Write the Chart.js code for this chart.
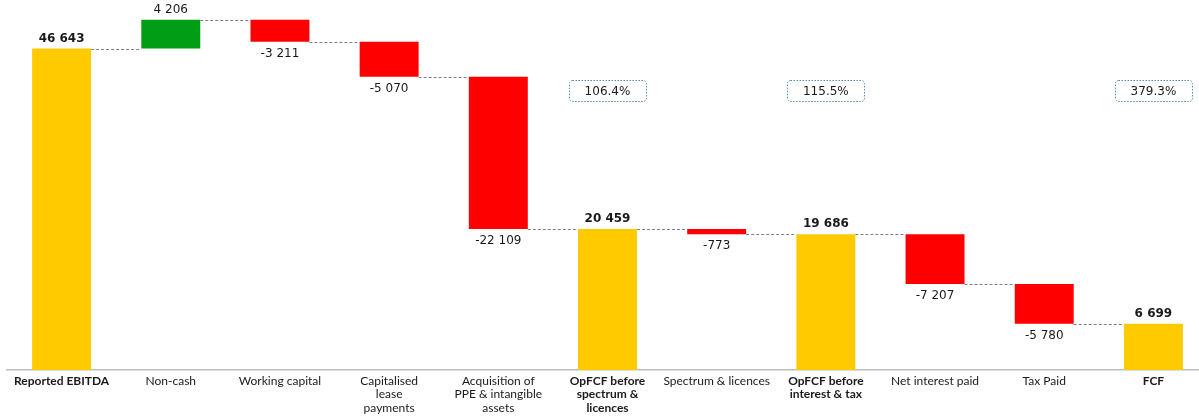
<!DOCTYPE html>
<html lang="en">
<head>
<meta charset="UTF-8">
<title>FCF bridge</title>
<script src="https://cdn.jsdelivr.net/npm/chart.js"></script>
<style>
  html, body { margin: 0; padding: 0; overflow: hidden; background: #fff; }
  .wrap { width: 1208px; height: 416px; }
</style>
</head>
<body>
<div class="wrap"><canvas id="bridge"></canvas></div>
<script>
const categories = [
  'Reported EBITDA',
  'Non-cash',
  'Working capital',
  ['Capitalised', 'lease', 'payments'],
  ['Acquisition of', 'PPE & intangible', 'assets'],
  ['OpFCF before', 'spectrum &', 'licences'],
  'Spectrum & licences',
  ['OpFCF before', 'interest & tax'],
  'Net interest paid',
  'Tax Paid',
  'FCF'
];
const values = [46643, 4206, -3211, -5070, -22109, 20459, -773, 19686, -7207, -5780, 6699];
const isTotal = [true, false, false, false, false, true, false, true, false, false, true];
const ratioIndex = [5, 7, 10];
const ratioLabels = ['106.4%', '115.5%', '379.3%'];

// totals stand on zero, the other steps float from the running total
const ranges = [];
let running = 0;
values.forEach((v, i) => {
  if (isTotal[i]) { ranges.push([0, v]); running = v; }
  else { ranges.push([running, running + v]); running += v; }
});

const colors = values.map((v, i) => isTotal[i] ? '#ffcb00' : (v >= 0 ? '#009e14' : '#ff0000'));

function fmt(v) {
  const s = String(Math.abs(v)).replace(/\B(?=(\d{3})+(?!\d))/g, ' ');
  return v < 0 ? '-' + s : s;
}

const bridgeDecor = {
  id: 'bridgeDecor',
  afterDatasetsDraw(chart) {
    const ctx = chart.ctx;
    const y = chart.scales.y;
    const x = chart.scales.x;
    const bars = chart.getDatasetMeta(0).data;

    // dashed links between neighbouring bars
    ctx.save();
    ctx.strokeStyle = '#808080';
    ctx.lineWidth = 1;
    ctx.setLineDash([3, 2]);
    for (let i = 0; i < bars.length - 1; i++) {
      const py = Math.round(y.getPixelForValue(ranges[i][1])) + 0.5;
      ctx.beginPath();
      ctx.moveTo(bars[i].x + bars[i].width / 2, py);
      ctx.lineTo(bars[i + 1].x - bars[i + 1].width / 2, py);
      ctx.stroke();
    }
    ctx.restore();

    // value labels
    ctx.save();
    ctx.fillStyle = '#1a1a1a';
    ctx.textAlign = 'center';
    bars.forEach((bar, i) => {
      const v = values[i];
      ctx.font = (isTotal[i] ? 'bold ' : '') + '12px "DejaVu Sans"';
      if (v >= 0) {
        ctx.textBaseline = 'bottom';
        ctx.fillText(fmt(v), bar.x, y.getPixelForValue(Math.max(...ranges[i])) - 4);
      } else {
        ctx.textBaseline = 'top';
        ctx.fillText(fmt(v), bar.x, y.getPixelForValue(Math.min(...ranges[i])) + 6);
      }
    });
    ctx.restore();

    // conversion ratio boxes
    ctx.save();
    ratioIndex.forEach((idx, k) => {
      const cx = x.getPixelForValue(idx);
      const w = 77, h = 21;
      const top = chart.chartArea.top + 80.5;
      ctx.strokeStyle = '#4f8db3';
      ctx.lineWidth = 1;
      ctx.setLineDash([1.5, 1.5]);
      ctx.beginPath();
      ctx.roundRect(Math.round(cx - w / 2) + 0.5, top, w, h, 3);
      ctx.stroke();
      ctx.setLineDash([]);
      ctx.fillStyle = '#1a1a1a';
      ctx.font = '12px "DejaVu Sans"';
      ctx.textAlign = 'center';
      ctx.textBaseline = 'middle';
      ctx.fillText(ratioLabels[k], cx, top + h / 2 + 1);
    });
    ctx.restore();
  }
};

new Chart(document.getElementById('bridge'), {
  type: 'bar',
  data: {
    labels: categories,
    datasets: [{
      data: ranges,
      backgroundColor: colors,
      borderWidth: 0,
      borderSkipped: false,
      categoryPercentage: 1,
      barPercentage: 0.54
    }]
  },
  options: {
    responsive: true,
    maintainAspectRatio: false,
    animation: false,
    layout: { padding: { left: 7, right: 0, top: 0, bottom: 0 } },
    plugins: {
      legend: { display: false },
      tooltip: { enabled: false }
    },
    scales: {
      x: {
        grid: { display: false, drawTicks: false },
        border: { display: true, color: '#bdbdbd', width: 1.5 },
        afterFit(scale) { scale.height = 46; },
        ticks: {
          autoSkip: false,
          maxRotation: 0,
          padding: 4,
          color: '#1a1a1a',
          font: ctx => ({
            family: 'Lato',
            size: 12,
            lineHeight: 1.13,
            weight: isTotal[ctx.index] ? 'bold' : 'normal'
          })
        }
      },
      y: {
        display: false,
        min: 0,
        max: 53700
      }
    }
  },
  plugins: [bridgeDecor]
});
</script>
</body>
</html>
